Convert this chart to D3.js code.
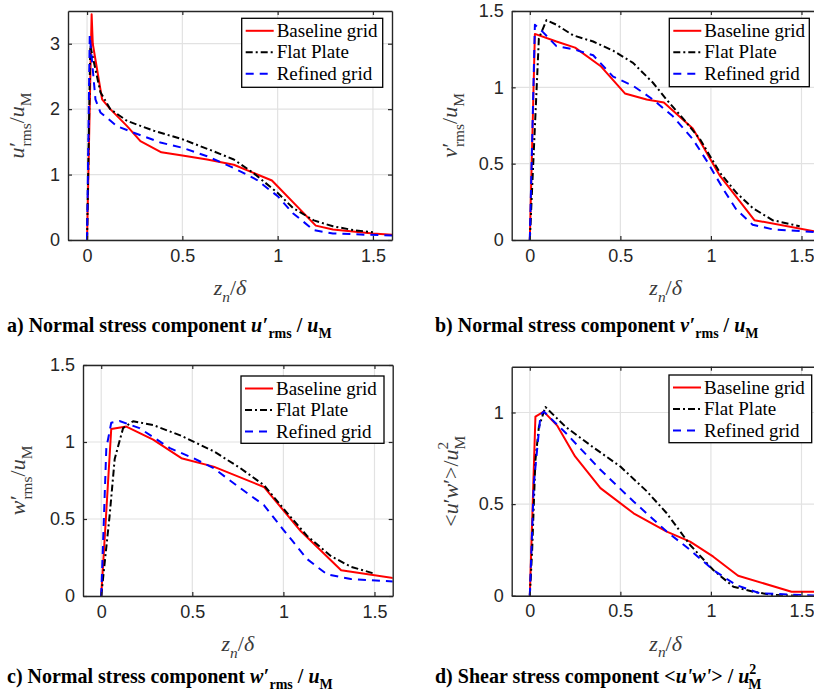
<!DOCTYPE html>
<html>
<head>
<meta charset="utf-8">
<script src="https://cdn.jsdelivr.net/npm/d3@7"></script>
<style>
  body { margin: 0; background: #fff; }
  svg { display: block; }
</style>
</head>
<body>
<svg id="chart" width="814" height="696"></svg>
<script>
// Series names, ticks and read-off data ([z_n/delta, value]) for each panel
const seriesNames = ["Baseline grid", "Flat Plate", "Refined grid"];
const xTicks = [0, 0.5, 1, 1.5];

// a) u'rms / uM
const aBaseline = [[0,0],[0.02,2.9],[0.024,3.45],[0.03,3.0],[0.079,2.15],[0.122,2.0],[0.21,1.74],[0.28,1.51],[0.39,1.34],[0.5,1.29],[0.63,1.23],[0.77,1.15],[0.87,1.03],[0.97,0.91],[1.2,0.22],[1.29,0.16],[1.5,0.1],[1.6,0.08]];
const aFlat = [[0,0],[0.017,2.97],[0.07,2.26],[0.122,2.0],[0.21,1.82],[0.35,1.67],[0.5,1.54],[0.66,1.36],[0.77,1.23],[0.87,1.03],[1.0,0.72],[1.08,0.49],[1.19,0.3],[1.29,0.21],[1.4,0.15],[1.5,0.12]];
const aRefined = [[0,0],[0.014,3.13],[0.044,2.15],[0.07,1.95],[0.157,1.74],[0.245,1.64],[0.385,1.49],[0.5,1.41],[0.63,1.28],[0.77,1.1],[0.89,0.92],[1.0,0.67],[1.08,0.41],[1.19,0.15],[1.29,0.1],[1.47,0.08],[1.6,0.07]];

// b) v'rms / uM
const bBaseline = [[0,0],[0.028,1.35],[0.147,1.3],[0.25,1.26],[0.39,1.14],[0.525,0.96],[0.645,0.92],[0.74,0.9],[0.9,0.73],[1.05,0.42],[1.24,0.13],[1.6,0.05]];
const bFlat = [[0,0],[0.05,1.32],[0.092,1.44],[0.147,1.41],[0.24,1.34],[0.35,1.3],[0.46,1.24],[0.57,1.16],[0.68,1.03],[0.755,0.92],[0.85,0.79],[0.94,0.66],[1.05,0.44],[1.14,0.31],[1.23,0.21],[1.34,0.13],[1.49,0.09]];
const bRefined = [[0,0],[0.028,1.41],[0.074,1.36],[0.147,1.27],[0.24,1.25],[0.35,1.21],[0.46,1.07],[0.57,1.01],[0.68,0.92],[0.79,0.81],[0.9,0.66],[0.976,0.52],[1.07,0.33],[1.14,0.2],[1.23,0.1],[1.34,0.07],[1.6,0.05]];

// c) w'rms / uM
const cBaseline = [[0,0],[0.055,1.085],[0.138,1.1],[0.285,1.015],[0.44,0.895],[0.617,0.84],[0.893,0.708],[1.096,0.42],[1.317,0.167],[1.61,0.116]];
const cFlat = [[0,0],[0.046,0.52],[0.074,0.89],[0.12,1.09],[0.175,1.135],[0.285,1.11],[0.44,1.04],[0.617,0.94],[0.764,0.83],[0.893,0.72],[1.02,0.54],[1.13,0.39],[1.26,0.26],[1.37,0.19],[1.5,0.145]];
const cRefined = [[0,0],[0.028,0.96],[0.055,1.125],[0.1,1.136],[0.21,1.09],[0.377,0.96],[0.506,0.895],[0.617,0.83],[0.764,0.7],[0.893,0.59],[1.0,0.43],[1.13,0.24],[1.24,0.14],[1.37,0.11],[1.61,0.094]];

// d) <u'w'> / uM^2
const dBaseline = [[0,0],[0.031,0.978],[0.077,1.005],[0.15,0.93],[0.25,0.76],[0.39,0.587],[0.573,0.45],[0.756,0.35],[0.885,0.295],[1.013,0.213],[1.15,0.109],[1.445,0.022],[1.6,0.022]];
const dFlat = [[0,0],[0.013,0.25],[0.031,0.74],[0.05,0.92],[0.086,1.03],[0.2,0.92],[0.35,0.81],[0.5,0.705],[0.646,0.57],[0.756,0.45],[0.885,0.277],[1.013,0.14],[1.124,0.049],[1.234,0.022],[1.34,0.004],[1.49,0]];
const dRefined = [[0,0],[0.022,0.61],[0.059,0.987],[0.077,1.005],[0.2,0.887],[0.39,0.687],[0.573,0.514],[0.756,0.35],[0.885,0.25],[1.013,0.14],[1.14,0.058],[1.27,0.013],[1.6,0]];

const lineStyles = [
  { color: "#ff0000", dash: null },
  { color: "#000000", dash: "7,3,2,3" },
  { color: "#0000ff", dash: "8,6" }
];

// math-ish text built from tspans: i = italic, sub/sup = script, dx = extra shift (em of base size)
function mathText(text, parts, fs) {
  let cur = 0;
  parts.forEach(p => {
    const target = p.sub ? 0.3 * fs : p.sup ? -0.45 * fs : 0;
    text.append("tspan")
      .attr("dy", target - cur)
      .attr("dx", (p.dx || 0) * fs)
      .attr("font-size", (p.sub || p.sup) ? fs * 0.7 : fs)
      .attr("font-style", p.i ? "italic" : "normal")
      .text(p.t);
    cur = target;
  });
}

const xLabel = [{t:"z",i:1},{t:"n",i:1,sub:1},{t:"/"},{t:"δ",i:1}];
// full-size prime; axis labels tuck the subscript under it, captions keep it beside
const rmsPart = (v, back) => [{t:v,i:1},{t:"′",dx:0.03},{t:"rms",sub:1,dx:back}];

const panels = [
  { box:[68,11,392,240], yMax:3.5, yTicks:[0,1,2,3], series:[aBaseline,aFlat,aRefined],
    legend:[241.7,18.3,382.7,87.3], ylabX:24,
    ylab:[...rmsPart("u",-0.2),{t:"/"},{t:"u",i:1},{t:"M",sub:1}],
    capPos:[7,332], cap:[{t:"a) Normal stress component "},...rmsPart("u",0),{t:" / "},{t:"u",i:1},{t:"M",sub:1}] },
  { box:[511.7,11,819.6,240], yMax:1.5, yTicks:[0,0.5,1,1.5], series:[bBaseline,bFlat,bRefined],
    legend:[669.3,18.3,809.3,86.7], ylabX:457,
    ylab:[...rmsPart("v",-0.2),{t:"/"},{t:"u",i:1},{t:"M",sub:1}],
    capPos:[435,332], cap:[{t:"b) Normal stress component "},...rmsPart("v",0),{t:" / "},{t:"u",i:1},{t:"M",sub:1}] },
  { box:[83,365,392.7,596], yMax:1.5, yTicks:[0,0.5,1,1.5], series:[cBaseline,cFlat,cRefined],
    legend:[241,376,384,443.3], ylabX:25,
    ylab:[...rmsPart("w",-0.2),{t:"/"},{t:"u",i:1},{t:"M",sub:1}],
    capPos:[7,683], cap:[{t:"c) Normal stress component "},...rmsPart("w",0),{t:" / "},{t:"u",i:1},{t:"M",sub:1}] },
  { box:[511.7,366.7,819.6,595.7], yMax:1.25, yTicks:[0,0.5,1], series:[dBaseline,dFlat,dRefined],
    legend:[669,375,811.7,442.7], ylabX:458,
    ylab:[{t:"<"},{t:"u",i:1},{t:"′"},{t:"w",i:1},{t:"′"},{t:">/"},{t:"u",i:1},{t:"2",sup:1},{t:"M",sub:1,dx:-0.35}],
    capPos:[435,683], cap:[{t:"d) Shear stress component <"},{t:"u'w'",i:1},{t:">"},{t:" / "},{t:"u",i:1},{t:"2",sup:1},{t:"M",sub:1,dx:-0.4}] }
];

const svg = d3.select("#chart");
const tickFont = "'Liberation Sans', Arial, sans-serif";
const serif = "'Liberation Serif', 'Times New Roman', serif";

panels.forEach((p, pi) => {
  const [x0, y0, x1, y1] = p.box;
  const x = d3.scaleLinear().domain([-0.1, 1.6]).range([x0, x1]);
  const y = d3.scaleLinear().domain([0, p.yMax]).range([y1, y0]);
  const g = svg.append("g");

  // grid
  g.append("g").selectAll("line").data(xTicks).join("line")
    .attr("x1", d => x(d)).attr("x2", d => x(d)).attr("y1", y0).attr("y2", y1)
    .attr("stroke", "#e2e2e2").attr("stroke-width", 1.2);
  g.append("g").selectAll("line").data(p.yTicks).join("line")
    .attr("x1", x0).attr("x2", x1).attr("y1", d => y(d)).attr("y2", d => y(d))
    .attr("stroke", "#e2e2e2").attr("stroke-width", 1.2);

  // curves, clipped to plot area
  svg.append("clipPath").attr("id", "clip" + pi)
    .append("rect").attr("x", x0).attr("y", y0).attr("width", x1 - x0).attr("height", y1 - y0);
  const line = d3.line().x(d => x(d[0])).y(d => y(d[1]));
  g.append("g").attr("clip-path", `url(#clip${pi})`)
    .selectAll("path").data(p.series).join("path")
    .attr("d", line)
    .attr("fill", "none")
    .attr("stroke", (d, i) => lineStyles[i].color)
    .attr("stroke-width", 2)
    .attr("stroke-linejoin", "round")
    .attr("stroke-dasharray", (d, i) => lineStyles[i].dash);

  // axes (box style, ticks inside on all sides)
  const axisColor = "#262626";
  const xb = d3.axisBottom(x).tickValues(xTicks).tickSizeInner(-4).tickSizeOuter(0).tickPadding(9).tickFormat(d3.format("~g"));
  const xt = d3.axisTop(x).tickValues(xTicks).tickSizeInner(-4).tickSizeOuter(0).tickFormat("");
  const yl = d3.axisLeft(y).tickValues(p.yTicks).tickSizeInner(-4).tickSizeOuter(0).tickPadding(8).tickFormat(d3.format("~g"));
  const yr = d3.axisRight(y).tickValues(p.yTicks).tickSizeInner(-4).tickSizeOuter(0).tickFormat("");
  [[xb, `translate(0,${y1})`], [xt, `translate(0,${y0})`], [yl, `translate(${x0},0)`], [yr, `translate(${x1},0)`]]
    .forEach(([ax, tr]) => {
      const a = g.append("g").attr("transform", tr).call(ax);
      a.select(".domain").attr("stroke", axisColor).attr("stroke-width", 1.4);
      a.selectAll(".tick line").attr("stroke", axisColor).attr("stroke-width", 1.2);
      a.selectAll(".tick text").attr("fill", axisColor).attr("font-size", 18).attr("font-family", tickFont);
    });

  // axis labels
  const xl = g.append("text").attr("x", (x0 + x1) / 2).attr("y", y1 + 55)
    .attr("text-anchor", "middle").attr("font-family", serif).attr("fill", "#3a3a3a");
  mathText(xl, xLabel, 22);
  const ylab = g.append("text")
    .attr("transform", `translate(${p.ylabX},${(y0 + y1) / 2}) rotate(-90)`)
    .attr("text-anchor", "middle").attr("font-family", serif).attr("fill", "#3a3a3a");
  mathText(ylab, p.ylab, 22);

  // legend
  const [lx0, ly0, lx1, ly1] = p.legend;
  const lg = g.append("g");
  lg.append("rect").attr("x", lx0).attr("y", ly0).attr("width", lx1 - lx0).attr("height", ly1 - ly0)
    .attr("fill", "#fff").attr("stroke", "#000").attr("stroke-width", 1.3);
  seriesNames.forEach((name, i) => {
    const cy = ly0 + 12.5 + i * 21.5;
    lg.append("line").attr("x1", lx0 + 4).attr("x2", lx0 + 32).attr("y1", cy).attr("y2", cy)
      .attr("stroke", lineStyles[i].color).attr("stroke-width", 2)
      .attr("stroke-dasharray", lineStyles[i].dash);
    lg.append("text").attr("x", lx0 + 35).attr("y", cy + 6)
      .attr("font-family", serif).attr("font-size", 19).attr("fill", "#000").text(name);
  });

  // caption
  const cap = svg.append("text").attr("x", p.capPos[0]).attr("y", p.capPos[1])
    .attr("font-family", serif).attr("font-weight", "bold").attr("fill", "#000");
  mathText(cap, p.cap, 20);
});
</script>
</body>
</html>
